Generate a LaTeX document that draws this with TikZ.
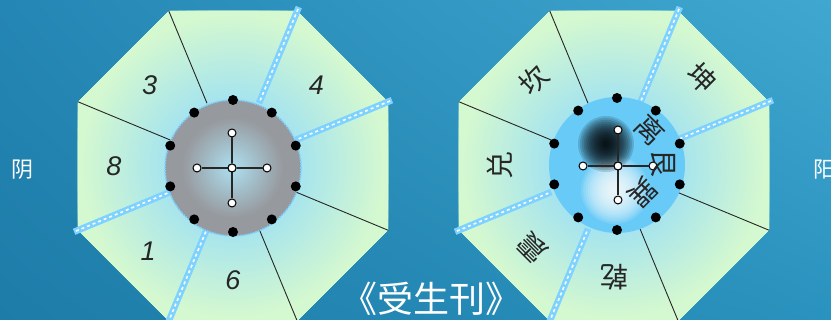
\documentclass[tikz,border=0pt]{standalone}
\usepackage{fontspec}
\setmainfont{Liberation Sans}
\newfontfamily\cjk{Noto Sans CJK SC}
\usetikzlibrary{shadings}
\definecolor{bgUL}{RGB}{36,134,180}
\definecolor{bgUR}{RGB}{64,168,208}
\definecolor{bgLL}{RGB}{30,124,168}
\definecolor{bgLR}{RGB}{42,146,190}
\definecolor{secin}{RGB}{166,228,238}
\definecolor{secout}{RGB}{212,248,208}
\definecolor{skyline}{RGB}{125,210,255}
\definecolor{lbin}{RGB}{172,216,232}
\definecolor{grayedge}{RGB}{150,153,157}
\definecolor{ballblue}{RGB}{104,202,246}
\begin{document}
\begin{tikzpicture}[x=1pt,y=1pt,
  sepline/.style={black!85, line width=0.9},
  blueline/.style={skyline, line width=6.5},
  whitedash/.style={white, line width=1.6, dash pattern=on 3pt off 3pt},
  bdot/.style={circle, fill=black, inner sep=0pt, minimum size=10pt},
  wdot/.style={circle, draw=black, fill=white, line width=1pt, inner sep=0pt, minimum size=8pt},
  crossline/.style={black!85, line width=2.4pt},
  num/.style={font=\fontsize{27}{27}\selectfont\itshape, text=black!85},
  gua/.style={font=\cjk\fontsize{28}{28}\selectfont, text=black!85},
  side/.style={font=\cjk\fontsize{22}{22}\selectfont, text=white},
]
\useasboundingbox (0,0) rectangle (831,320);
\clip (0,0) rectangle (831,320);
\shade[upper left=bgUL, upper right=bgUR, lower left=bgLL, lower right=bgLR] (0,0) rectangle (831,320);

% octagons
\foreach \cx in {233,614}{
  \begin{scope}
    \clip ([shift={(\cx,154)}]22.5:167.8) \foreach \a in {67.5,112.5,...,337.5}{ -- ([shift={(\cx,154)}]\a:167.8)} -- cycle;
    \foreach \i in {0,...,42}{
      \pgfmathsetmacro\myrad{172-2.5*\i}
      \pgfmathsetmacro\mymix{max(0,min(100,100*(\myrad-68)/84))}
      \fill[secout!\mymix!secin] (\cx,154) circle (\myrad);
    }
  \end{scope}
  \foreach \a in {112.5,157.5,292.5,337.5}{
    \draw[sepline] ([shift={(\cx,154)}]\a:168) -- ([shift={(\cx,154)}]\a:68);
  }
  \foreach \a in {22.5,67.5,202.5,247.5}{
    \draw[blueline] ([shift={(\cx,154)}]\a:172) -- ([shift={(\cx,154)}]\a:68);
    \draw[whitedash] ([shift={(\cx,154)}]\a:170) -- ([shift={(\cx,154)}]\a:68);
  }
}

% left centre disc
\coordinate (LC) at (233,152);
\foreach \i in {0,...,33}{
  \pgfmathsetmacro\myrad{68-2*\i}
  \pgfmathsetmacro\mymix{max(0,min(100,100*(\myrad-6)/46))}
  \fill[grayedge!\mymix!lbin] (LC) circle (\myrad);
}
\draw[skyline, line width=1.6pt, densely dotted] (LC) circle (68);

% right centre disc
\coordinate (RC) at (617,155);
\coordinate (DarkC) at (606,176);
\coordinate (LightC) at (615,130);
\fill[ballblue] (RC) circle (68);
\begin{scope}
  \clip (RC) circle (68);
  \foreach \i in {0,...,14}{
    \fill[white, opacity=0.13] (LightC) circle (34-2.2*\i);
  }
  \foreach \i in {0,...,13}{
    \fill[black, opacity=0.14] (DarkC) circle (28-1.9*\i);
  }
\end{scope}

% black dots
\foreach \k in {0,...,9}{
  \node[bdot] (ldot\k) at ([shift={(233,154)}]90+36*\k:66) {};
  \node[bdot] (rdot\k) at ([shift={(617,156)}]90+36*\k:66) {};
}

% crosses
\node[wdot] (lc) at (232,152) {};
\node[wdot] (ln) at (232,187) {};
\node[wdot] (ls) at (232,117) {};
\node[wdot] (lw) at (197,152) {};
\node[wdot] (le) at (267,152) {};
\draw[crossline] (ln) -- (lc) -- (ls);
\draw[crossline] (lw) -- (lc) -- (le);
\node[wdot] (lc2) at (232,152) {};

\node[wdot] (rc) at (618,154) {};
\node[wdot] (rn) at (618,190) {};
\node[wdot] (rs) at (618,120) {};
\node[wdot] (rw) at (583,154) {};
\node[wdot] (re) at (653,154) {};
\draw[crossline] (rn) -- (rc) -- (rs);
\draw[crossline] (rw) -- (rc) -- (re);
\node[wdot] (rc2) at (618,154) {};

% numbers (left)
\node[num] (n3) at ([shift={(233,154)}]136:116) {3};
\node[num] (n4) at ([shift={(233,154)}]44:116) {4};
\node[num] (n8) at ([shift={(233,154)}]180:119) {8};
\node[num] (n1) at ([shift={(233,154)}]225:120) {1};
\node[num] (n6) at ([shift={(233,154)}]270:114) {6};

% trigram names (right)
\node[gua, rotate=45] (gkan) at ([shift={(614,154)}]133:118) {坎};
\node[gua, rotate=-45] (gkun) at ([shift={(614,154)}]45:124) {坤};
\node[gua, rotate=90] (gdui) at ([shift={(614,154)}]180:114) {兑};
\node[gua, rotate=135] (gzhen) at ([shift={(614,154)}]225:115) {震};
\node[gua, rotate=180] (gqian) at ([shift={(614,154)}]270:111) {乾};
\node[gua, rotate=-45] (gli) at ([shift={(617,156)}]46:47) {离};
\node[gua, rotate=-90] (ggen) at ([shift={(617,156)}]0:46) {艮};
\node[gua, rotate=-135] (gxun) at ([shift={(617,156)}]-48:39) {巽};

% side labels and title
\node[side] (yin) at (22,150) {阴};
\node[side] (yang) at (824,150) {阳};
\node[font=\cjk\fontsize{36}{36}\selectfont, text=white] (title) at (431,21) {《受生刊》};
\end{tikzpicture}
\end{document}
